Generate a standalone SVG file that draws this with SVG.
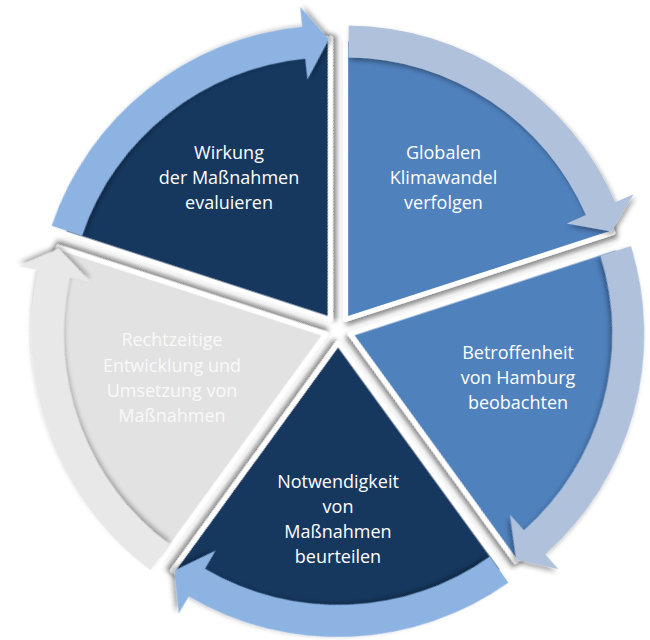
<svg xmlns="http://www.w3.org/2000/svg" xmlns:xlink="http://www.w3.org/1999/xlink" width="650" height="640" viewBox="0 0 650 640">
  <style>
    .seg { stroke: #FFFFFF; stroke-width: 5; stroke-linejoin: round; filter: url(#shadow); }
    .navy { fill: #17375E; }
    .blue { fill: #4F81BD; }
    .grey { fill: #E2E2E2; }
    .arc { filter: url(#shadow-soft); }
    .arc-light { fill: #8DB3E2; }
    .arc-pale { fill: #B0C1DC; }
    .arc-grey { fill: #E8E8E8; }
    text { font-family: "Open Sans", "Noto Sans", "Liberation Sans", sans-serif; font-size: 18px; fill: #FFFFFF; text-anchor: middle; }
    .faint { fill: #F9F9F9; }
  </style>
  <defs>
    <filter id="shadow" x="-20%" y="-20%" width="140%" height="140%">
      <feDropShadow dx="2.5" dy="3.5" stdDeviation="2.5" flood-color="#000000" flood-opacity="0.45"/>
    </filter>
    <filter id="shadow-soft" x="-20%" y="-20%" width="140%" height="140%">
      <feDropShadow dx="2" dy="3" stdDeviation="2.5" flood-color="#000000" flood-opacity="0.35"/>
    </filter>
    <!-- one 72 degree segment, apex at the origin, spanning -90..-18 degrees -->
    <path id="wedge" d="M0,0 L0,-281 A281,281 0 0 1 267.25,-86.83 Z"/>
    <!-- curved arrow along the rim of that segment, head at the clockwise edge -->
    <path id="rim-arrow" d="M3.08,-293.98 A294,294 0 0 1 269.62,-117.23 L287.96,-125.21 L265.84,-87.92 L221.01,-96.10 L240.27,-104.47 A262,262 0 0 0 2.74,-261.98 Z"/>
  </defs>

  <rect width="650" height="640" fill="#FFFFFF"/>

  <!-- segments -->
  <g id="node-evaluate">
    <use xlink:href="#wedge" class="seg navy" transform="translate(330.36,319.48) rotate(288)"/>
    <text x="229" y="159">Wirkung</text>
    <text x="229" y="184">der Maßnahmen</text>
    <text x="229" y="209">evaluieren</text>
  </g>

  <g id="node-global">
    <use xlink:href="#wedge" class="seg blue" transform="translate(345.64,319.48)"/>
    <text x="443.5" y="159">Globalen</text>
    <text x="443.5" y="184">Klimawandel</text>
    <text x="443.5" y="209">verfolgen</text>
  </g>

  <g id="node-hamburg">
    <use xlink:href="#wedge" class="seg blue" transform="translate(350.36,334.02) rotate(72)"/>
    <text x="518" y="358.5">Betroffenheit</text>
    <text x="518" y="383.5">von Hamburg</text>
    <text x="518" y="408.5">beobachten</text>
  </g>

  <g id="node-assess">
    <use xlink:href="#wedge" class="seg navy" transform="translate(338,343) rotate(144)"/>
    <text x="338" y="487.5">Notwendigkeit</text>
    <text x="338" y="512.5">von</text>
    <text x="338" y="537.5">Maßnahmen</text>
    <text x="338" y="562.5">beurteilen</text>
  </g>

  <g id="node-implement">
    <use xlink:href="#wedge" class="seg grey" transform="translate(325.64,334.02) rotate(216)"/>
    <text class="faint" x="172" y="346">Rechtzeitige</text>
    <text class="faint" x="172" y="371.5">Entwicklung und</text>
    <text class="faint" x="172" y="397">Umsetzung von</text>
    <text class="faint" x="172" y="422">Maßnahmen</text>
  </g>

  <!-- cycle arrows around the rim -->
  <g id="connectors">
    <use xlink:href="#rim-arrow" class="arc arc-light" transform="translate(330.36,319.48) rotate(288)"/>
    <use xlink:href="#rim-arrow" class="arc arc-pale" transform="translate(345.64,319.48)"/>
    <use xlink:href="#rim-arrow" class="arc arc-pale" transform="translate(350.36,334.02) rotate(72)"/>
    <use xlink:href="#rim-arrow" class="arc arc-light" transform="translate(338,343) rotate(144)"/>
    <use xlink:href="#rim-arrow" class="arc arc-grey" transform="translate(325.64,334.02) rotate(216)"/>
  </g>
</svg>
